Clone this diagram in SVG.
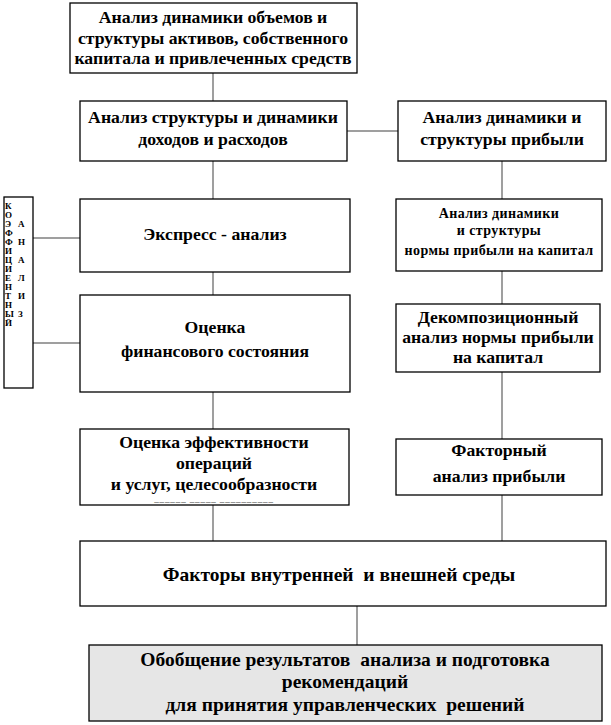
<svg xmlns="http://www.w3.org/2000/svg" width="611" height="725" viewBox="0 0 611 725" font-family="Liberation Serif, Times New Roman, serif">
<style>
.box{fill:#fff;stroke:#000;stroke-width:1.3}
.gray{fill:#e6e6e6}
.t{font-weight:bold;fill:#000;text-anchor:middle;font-size:17.7px}
.s{font-size:14px;letter-spacing:0.4px}
.b{font-size:19.5px}
.l{font-weight:bold;fill:#000;font-size:9px}
.c{stroke:#7f7f7f;stroke-width:1.5;fill:none}
</style>
<rect width="611" height="725" fill="#fff"/>
<g id="connectors">
<line class="c" x1="213" y1="73" x2="213" y2="101"/>
<line class="c" x1="347" y1="131" x2="398" y2="131"/>
<line class="c" x1="213" y1="161" x2="213" y2="199"/>
<line class="c" x1="213" y1="272" x2="213" y2="295"/>
<line class="c" x1="213" y1="392" x2="213" y2="429"/>
<line class="c" x1="213" y1="505" x2="213" y2="541"/>
<line class="c" x1="33" y1="238" x2="80" y2="238"/>
<line class="c" x1="33" y1="343" x2="80" y2="343"/>
<line class="c" x1="502" y1="161" x2="502" y2="199"/>
<line class="c" x1="502" y1="271" x2="502" y2="304"/>
<line class="c" x1="502" y1="372" x2="502" y2="439"/>
<line class="c" x1="502" y1="495" x2="502" y2="541"/>
<line class="c" x1="357" y1="606" x2="357" y2="645"/>
</g>
<g id="n1"><rect class="box" x="70" y="3" width="287" height="70"/>
<text class="t" x="213" y="23">Анализ динамики объемов и</text>
<text class="t" x="213" y="44">структуры активов, собственного</text>
<text class="t" x="213" y="64">капитала и привлеченных средств</text></g>
<g id="n2"><rect class="box" x="80" y="101" width="267" height="60"/>
<text class="t" x="213" y="123">Анализ структуры и динамики</text>
<text class="t" x="213" y="145">доходов и расходов</text></g>
<g id="n3"><rect class="box" x="398" y="101" width="208" height="60"/>
<text class="t" x="502" y="123">Анализ динамики и</text>
<text class="t" x="502" y="145">структуры прибыли</text></g>
<g id="n4"><rect class="box" x="80" y="199" width="270" height="73"/>
<text class="t" x="215" y="240">Экспресс - анализ</text></g>
<g id="n5"><rect class="box" x="4" y="197" width="29" height="191"/>
<text class="l" x="5" y="209">К</text><text class="l" x="5" y="218">О</text><text class="l" x="5" y="227">Э</text><text class="l" x="5" y="236">Ф</text><text class="l" x="5" y="245">Ф</text><text class="l" x="5" y="254">И</text><text class="l" x="5" y="263">Ц</text><text class="l" x="5" y="272">И</text><text class="l" x="5" y="281">Е</text><text class="l" x="5" y="290">Н</text><text class="l" x="5" y="299">Т</text><text class="l" x="5" y="308">Н</text><text class="l" x="5" y="317">Ы</text><text class="l" x="5" y="326">Й</text>
<text class="l" x="18" y="227">А</text><text class="l" x="18" y="245">Н</text><text class="l" x="18" y="263">А</text><text class="l" x="18" y="281">Л</text><text class="l" x="18" y="299">И</text><text class="l" x="18" y="317">З</text></g>
<g id="n6"><rect class="box" x="80" y="295" width="270" height="97"/>
<text class="t" x="215" y="333">Оценка</text>
<text class="t" x="215" y="357">финансового состояния</text></g>
<g id="n7"><rect class="box" x="80" y="429" width="269" height="76"/>
<text class="t" x="214" y="448">Оценка эффективности</text>
<text class="t" x="214" y="469">операций</text>
<text class="t" x="214" y="490">и услуг, целесообразности</text>
<text class="t" x="214" y="502" style="font-size:9px;font-weight:normal;letter-spacing:0.9px">______ _____ __________</text></g>
<g id="n8"><rect class="box" x="396" y="199" width="206" height="72"/>
<text class="t s" x="499" y="218">Анализ динамики</text>
<text class="t s" x="499" y="235">и структуры</text>
<text class="t s" x="499" y="255">нормы прибыли на капитал</text></g>
<g id="n9"><rect class="box" x="396" y="304" width="204" height="68"/>
<text class="t" x="498" y="323">Декомпозиционный</text>
<text class="t" x="498" y="343">анализ нормы прибыли</text>
<text class="t" x="498" y="363">на капитал</text></g>
<g id="n10"><rect class="box" x="396" y="439" width="206" height="56"/>
<text class="t" x="499" y="456">Факторный</text>
<text class="t" x="499" y="482">анализ прибыли</text></g>
<g id="n11"><rect class="box" x="80" y="541" width="526" height="65"/>
<text class="t b" x="339" y="581" xml:space="preserve">Факторы внутренней  и внешней среды</text></g>
<g id="n12"><rect class="box gray" x="89" y="645" width="513" height="76"/>
<text class="t b" x="345" y="666" xml:space="preserve">Обобщение результатов  анализа и подготовка</text>
<text class="t b" x="345" y="688">рекомендаций</text>
<text class="t b" x="345" y="711" xml:space="preserve">для принятия управленческих  решений</text></g>
</svg>
